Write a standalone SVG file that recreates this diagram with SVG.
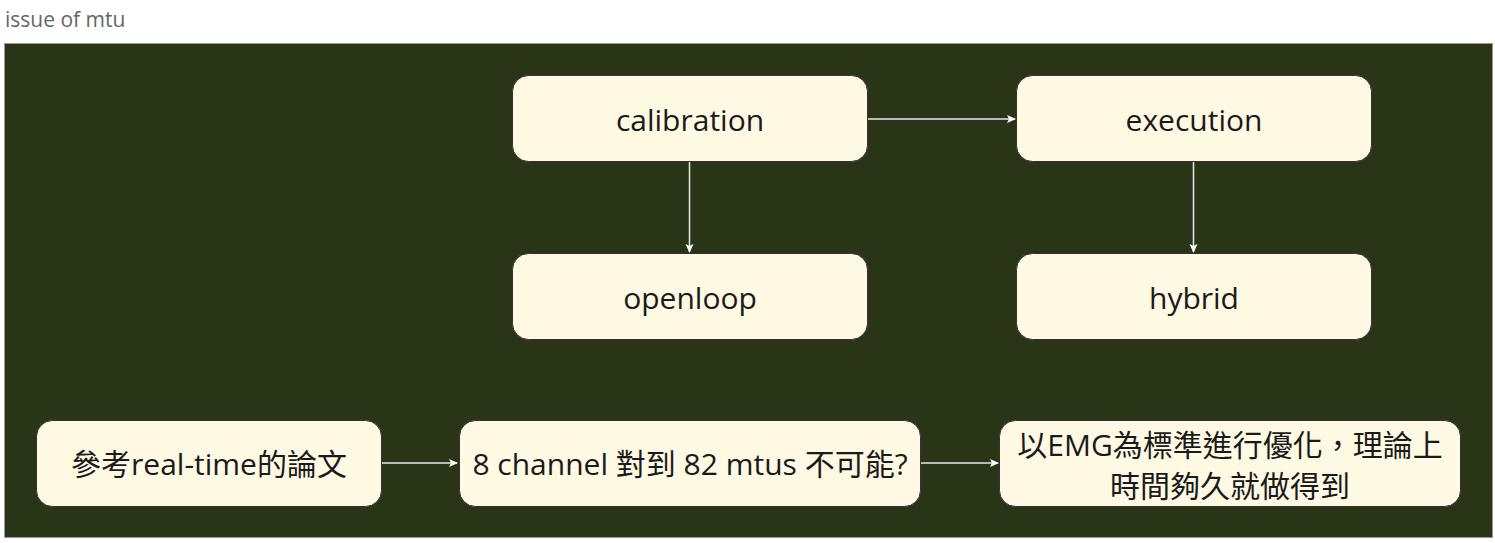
<svg xmlns="http://www.w3.org/2000/svg" width="1495" height="543" viewBox="0 0 1495 543">
<defs>
<marker id="ah" markerWidth="10" markerHeight="10" refX="8" refY="5" orient="auto" markerUnits="userSpaceOnUse">
<path d="M0,1 L9,5 L0,9 L2,5 Z" fill="#ffffff"/>
</marker>
<style>
.node rect{fill:#fef9e3;stroke:#333;stroke-width:1}
.node text{font-family:"Open Sans","Noto Sans CJK TC",sans-serif;font-size:30px;fill:#1a1a1a;text-anchor:middle;dominant-baseline:central}
.conn path{stroke:#e8e8e8;stroke-width:1.5;fill:none;marker-end:url(#ah)}
</style>
</defs>
<rect width="1495" height="543" fill="#ffffff"/>
<text x="5" y="27" font-family="Open Sans, sans-serif" font-size="21" fill="#666666">issue of mtu</text>
<rect x="4.5" y="43.5" width="1488" height="494" fill="#2a3518" stroke="#999" stroke-width="1"/>
<g class="conn">
<path d="M868,119 L1015,119"/>
<path d="M689.5,162 L689.5,252"/>
<path d="M1193.5,162 L1193.5,252"/>
<path d="M382,463 L457,463"/>
<path d="M921,463 L998,463"/>
</g>
<g id="calibration" class="node"><rect x="512.5" y="75.5" width="355" height="86" rx="16"/><text x="690" y="119">calibration</text></g>
<g id="execution" class="node"><rect x="1016.5" y="75.5" width="355" height="86" rx="16"/><text x="1194" y="119">execution</text></g>
<g id="openloop" class="node"><rect x="512.5" y="253.5" width="355" height="86" rx="16"/><text x="690" y="297">openloop</text></g>
<g id="hybrid" class="node"><rect x="1016.5" y="253.5" width="355" height="86" rx="16"/><text x="1194" y="297">hybrid</text></g>
<g id="paper" class="node"><rect x="36.5" y="420.5" width="345" height="86" rx="16"/><text x="209" y="463">參考real-time的論文</text></g>
<g id="channel" class="node"><rect x="459.5" y="420.5" width="461" height="86" rx="16"/><text x="690" y="463">8 channel 對到 82 mtus 不可能?</text></g>
<g id="emg" class="node"><rect x="999.5" y="420.5" width="461" height="86" rx="16"/><text x="1230" y="444">以EMG為標準進行優化，理論上</text><text x="1230" y="485">時間夠久就做得到</text></g>
</svg>
